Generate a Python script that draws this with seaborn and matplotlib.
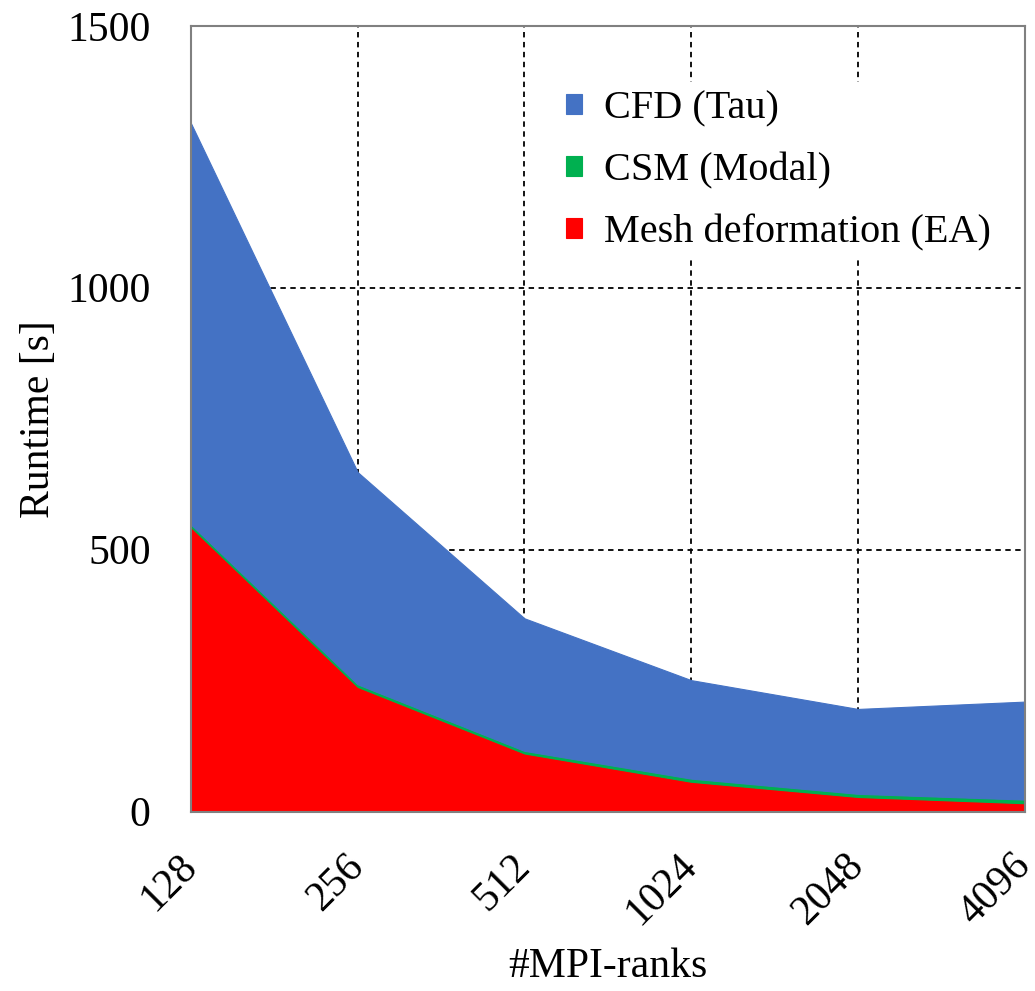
import matplotlib
matplotlib.use("Agg")
import matplotlib.pyplot as plt
import seaborn as sns
import numpy as np

sns.set_theme(style="white")
plt.rcParams['font.family'] = ['Liberation Serif', 'DejaVu Serif']
plt.rcParams['text.color'] = 'black'
plt.rcParams['axes.labelcolor'] = 'black'
plt.rcParams['xtick.color'] = 'black'
plt.rcParams['ytick.color'] = 'black'

# data
ranks = ["128", "256", "512", "1024", "2048", "4096"]
mesh_ea = [543, 238, 111, 57, 28, 16]
csm_modal = [5, 5, 5, 6, 6, 7]
cfd_tau = [766, 405, 253, 188, 162, 187]

labels = ["Mesh deformation (EA)", "CSM (Modal)", "CFD (Tau)"]
colors = ["#FF0000", "#00B050", "#4472C4"]

fig = plt.figure(figsize=(10.35, 9.91), dpi=100)
ax = fig.add_axes([0.1845, 0.181, 0.8055, 0.793])

x = np.arange(len(ranks))
polys = ax.stackplot(x, mesh_ea, csm_modal, cfd_tau, colors=colors,
                     labels=labels, zorder=2)
for p, c in zip(polys, colors):
    p.set_edgecolor(c)
    p.set_linewidth(0.8)

ax.set_xlim(0, len(ranks) - 1)
ax.set_ylim(0, 1500)
ax.set_xticks(x)
ax.set_xticklabels(ranks, rotation=45, ha="right", va="center",
                   rotation_mode="anchor", fontsize=30)
ax.set_yticks([0, 500, 1000, 1500])
ax.set_yticklabels(["0", "500", "1000", "1500"], fontsize=30)
ax.tick_params(axis="y", length=0, pad=29)
ax.tick_params(axis="x", length=0, pad=35)

ax.grid(True, color="black", linestyle=(0, (3, 2.5)), linewidth=1.3, zorder=1)
ax.set_axisbelow(True)

for s in ax.spines.values():
    s.set_color("#808080")
    s.set_linewidth(1.5)
    s.set_zorder(3)

ax.set_xlabel("#MPI-ranks", fontsize=30, labelpad=11)
ax.set_ylabel("Runtime [s]", fontsize=30, labelpad=7)

handles = polys[::-1]
leg = ax.legend(handles, labels[::-1], loc="upper left",
                bbox_to_anchor=(0.44, 0.928), fontsize=29,
                handlelength=0.4, handleheight=0.4, handletextpad=0.55,
                labelspacing=0.62, borderpad=0.2, borderaxespad=0,
                frameon=True, framealpha=1, facecolor="white",
                edgecolor="none", fancybox=False)
leg.set_zorder(4)

plt.savefig("out.png", dpi=100)
plt.close()
